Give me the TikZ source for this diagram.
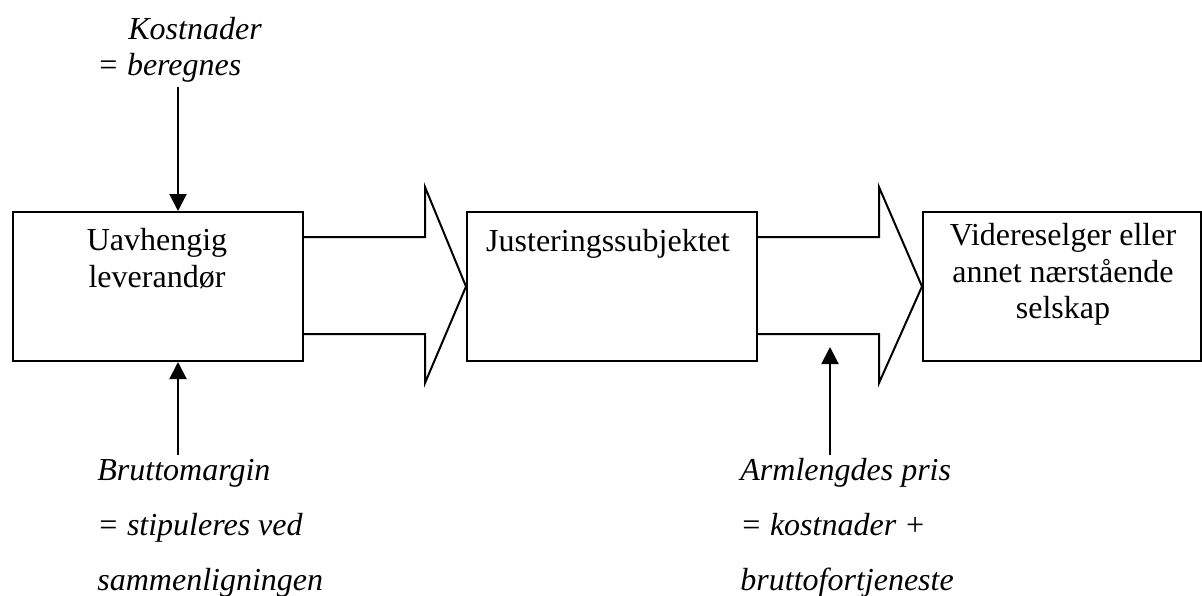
\documentclass[tikz,border=0pt]{standalone}
\usepackage{fontspec}
\setmainfont{Liberation Serif}
\usetikzlibrary{arrows.meta}
\begin{document}
\begin{tikzpicture}[x=0.5pt,y=-0.5pt,
  every node/.style={font=\fontsize{16}{19}\selectfont},
  box/.style={draw,line width=1pt,inner sep=0pt,anchor=north west},
  txt/.style={inner sep=0pt,anchor=base},
  lab/.style={inner sep=0pt,anchor=base west,font=\fontsize{16}{19}\selectfont\itshape},
  blockarrow/.style={draw,line width=1pt,line join=miter},
  arr/.style={line width=1pt,-{Triangle[length=8.5pt,width=8.5pt]}}]
\useasboundingbox (0,0) rectangle (1202,595);
% boxes
\node[box,minimum width=145pt,minimum height=74.5pt] (b1) at (12,211) {};
\node[box,minimum width=145pt,minimum height=74.5pt] (b2) at (466,211) {};
\node[box,minimum width=139pt,minimum height=74.5pt] (b3) at (922,211) {};
% box texts
\node[txt] (t1a) at (157,250) {Uavhengig};
\node[txt] (t1b) at (157,287) {leverandør};
\node[txt] (t2a) at (608,251) {Justeringssubjektet};
\node[txt] (t3a) at (1063,245) {Videreselger eller};
\node[txt] (t3b) at (1063,282) {annet nærstående};
\node[txt] (t3c) at (1063,318) {selskap};
% block arrows
\draw[blockarrow] (b1.east |- 0,237) -- (425,237) -- (425,187) -- (b2.west)
  -- (425,383) -- (425,334) -- (b1.east |- 0,334);
\draw[blockarrow] (b2.east |- 0,237) -- (879,237) -- (879,187) -- (b3.west)
  -- (879,383) -- (879,334) -- (b2.east |- 0,334);
% labels
\node[lab] (k1) at (128,39) {Kostnader};
\node[lab] (k2) at (97,75) {= beregnes};
\node[lab] (m1) at (97,480) {Bruttomargin};
\node[lab] (m2) at (97,535) {= stipuleres ved};
\node[lab] (m3) at (97,590) {sammenligningen};
\node[lab] (a1) at (740,480) {Armlengdes pris};
\node[lab] (a2) at (740,535) {= kostnader +};
\node[lab] (a3) at (740,590) {bruttofortjeneste};
% vertical arrows
\coordinate (c1) at (178,87);
\coordinate (c2) at (178,455);
\coordinate (c3) at (830,455);
\coordinate (c3e) at (830,347);
\draw[arr] (c1) -- (c1 |- b1.north);
\draw[arr] (c2) -- (c2 |- b1.south);
\draw[arr] (c3) -- (c3e);
\end{tikzpicture}
\end{document}
